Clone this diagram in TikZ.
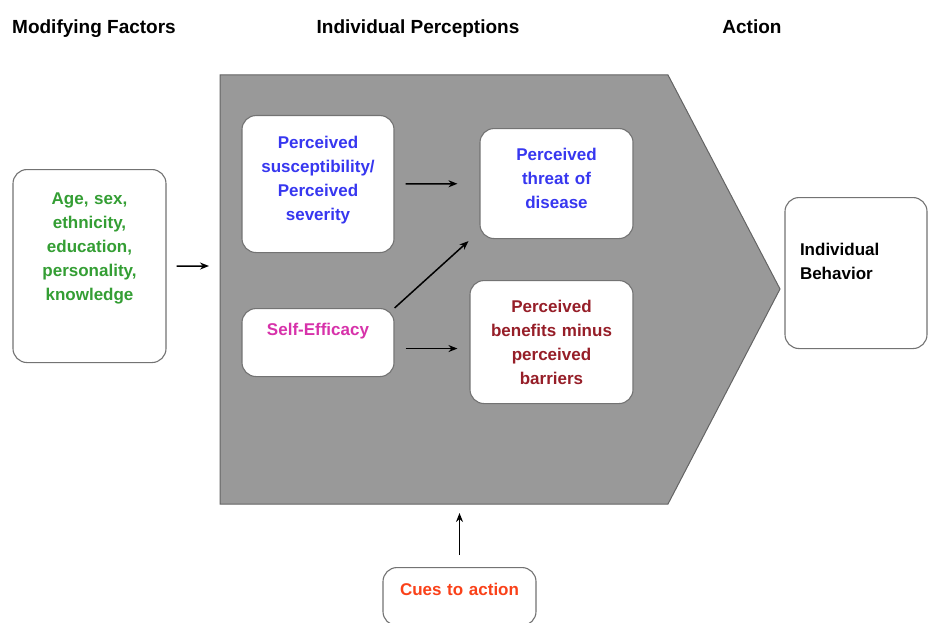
\documentclass[tikz,border=0pt]{standalone}
\usepackage{fontspec}
\setmainfont{Liberation Sans}
\usetikzlibrary{arrows.meta,positioning}
\definecolor{panelGray}{RGB}{153,153,153}
\definecolor{panelEdge}{RGB}{100,100,100}
\definecolor{txtGreen}{RGB}{52,158,52}
\definecolor{txtBlue}{RGB}{55,55,240}
\definecolor{txtPink}{RGB}{215,50,170}
\definecolor{txtRed}{RGB}{150,30,40}
\definecolor{txtOrange}{RGB}{250,65,25}
\tikzset{
  bx/.style    ={draw=black!55,fill=white,line width=1.1pt,rounded corners=14pt,
                 inner xsep=6pt,inner ysep=0pt,align=center,anchor=north,
                 font=\fontsize{17}{24}\selectfont\bfseries},
  bxMod/.style ={bx,text=txtGreen},
  bxBlue/.style={bx,text=txtBlue},
  bxPink/.style={bx,text=txtPink},
  bxRed/.style ={bx,text=txtRed},
  bxCue/.style ={bx,text=txtOrange},
  bxAct/.style ={bx,align=left,inner xsep=15pt},
  ttl/.style   ={font=\fontsize{19}{22}\selectfont\bfseries,inner sep=0pt,anchor=base},
  ed/.style    ={->,draw=black,line width=1.5pt},
}

\begin{document}
\begin{tikzpicture}[
  >={Stealth[length=9pt,width=7pt]},
  x=1pt, y=-1pt,
]
\useasboundingbox (0,0) rectangle (928,623);

%% ---------------- headings ----------------
\node[ttl] (tMod) at ( 94,34) {Modifying Factors};
\node[ttl] (tPer) at (418,34) {Individual Perceptions};
\node[ttl] (tAct) at (752,34) {Action};

%% ---------------- grey arrow panel ----------------
\draw[fill=panelGray,draw=panelEdge,line width=1pt]
  (220,75) -- (668,75) -- (780,289) -- (668,504) -- (220,504) -- cycle;
\coordinate (pIn)  at (220,266);
\coordinate (pBot) at (459.5,504);

%% ---------------- boxes ----------------
\node[bxMod,text width=141pt,text height=35pt,text depth=158pt] (mod) at (89.5,169)
  {Age, sex,\\ ethnicity,\\ education,\\ personality,\\ knowledge};
\node[bxBlue,text width=140pt,text height=33pt,text depth=104pt] (sus) at (318,115)
  {Perceived\\ susceptibility/\\ Perceived\\ severity};
\node[bxBlue,text width=141pt,text height=32pt,text depth=78pt] (thr) at (556.5,128)
  {Perceived\\ threat of\\ disease};
\node[bxPink,text width=140pt,text height=27pt,text depth=41pt] (eff) at (318,308)
  {Self-Efficacy};
\node[bxRed,text width=151pt,text height=32pt,text depth=91pt] (ben) at (551.5,280)
  {Perceived\\ benefits minus\\ perceived\\ barriers};
\node[bxAct,text width=112pt,text height=58pt,text depth=93pt] (beh) at (856,197)
  {Individual\\ Behavior};
\node[bxCue,text width=141pt,text height=28pt,text depth=30pt] (cue) at (459.5,567)
  {Cues to action};

%% ---------------- connectors ----------------
\draw[ed,shorten <=10pt,shorten >=11pt] (mod.east) -- (pIn);
\draw[ed,shorten <=11pt,shorten >=22pt] (sus) -- (thr);
\draw[ed] (eff.north east) -- ([xshift=-11pt,yshift=-2pt]thr.south west);
\draw[ed,shorten <=11pt,shorten >=12pt] ([yshift=-6pt]eff.east) -- ([yshift=-6pt]eff.east -| ben.west);
\draw[ed,shorten <=12pt,shorten >=9pt] (cue.north) -- (pBot);

\end{tikzpicture}
\end{document}
